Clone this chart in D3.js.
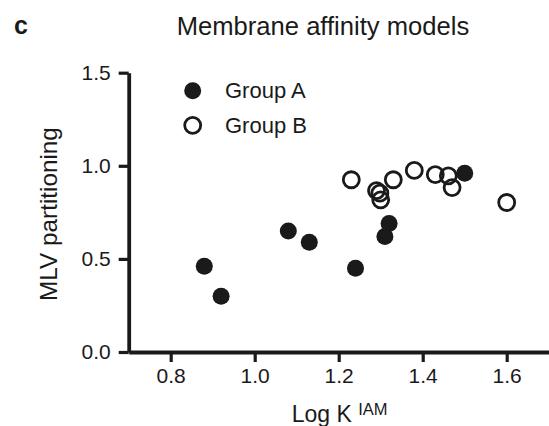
<!DOCTYPE html>
<html>
<head>
<meta charset="utf-8">
<script src="https://cdn.jsdelivr.net/npm/d3@7"></script>
<style>
  html, body { margin: 0; padding: 0; background: #fff; }
  svg { display: block; }
  text { font-family: Arial, "Liberation Sans", Helvetica, sans-serif; fill: #1a1a1a; }
</style>
</head>
<body>
<svg id="chart" width="549" height="426"></svg>
<script>
const xTicks = [0.8, 1.0, 1.2, 1.4, 1.6];
const yTicks = [0.0, 0.5, 1.0, 1.5];
const groupA_x = [0.88, 0.92, 1.08, 1.13, 1.24, 1.31, 1.32, 1.50];
const groupA_y = [0.46, 0.30, 0.65, 0.59, 0.45, 0.62, 0.69, 0.96];
const groupB_x = [1.23, 1.29, 1.298, 1.30, 1.33, 1.38, 1.43, 1.461, 1.47, 1.60];
const groupB_y = [0.925, 0.867, 0.853, 0.817, 0.925, 0.975, 0.953, 0.946, 0.883, 0.803];
const seriesNames = ["Group A", "Group B"];

const svg = d3.select("#chart");
const ink = "#1a1a1a";
const x = d3.scaleLinear().domain([0.7, 1.7]).range([128.7, 548.7]);
const y = d3.scaleLinear().domain([0, 1.5]).range([352, 72.7]);

// axes
const xAxis = d3.axisBottom(x).tickValues(xTicks).tickFormat(d3.format(".1f"))
  .tickSizeInner(10).tickSizeOuter(0).tickPadding(6);
const yAxis = d3.axisLeft(y).tickValues(yTicks).tickFormat(d3.format(".1f"))
  .tickSizeInner(10).tickSizeOuter(0).tickPadding(8);

const gx = svg.append("g").attr("transform", `translate(0,${y(0)})`).call(xAxis);
const gy = svg.append("g").attr("transform", `translate(${x(0.7)},0)`).call(yAxis);
[gx, gy].forEach(g => {
  g.select(".domain").attr("stroke", ink).attr("stroke-width", 3.8);
  g.selectAll(".tick line").attr("stroke", ink).attr("stroke-width", 3.2);
  g.selectAll(".tick text").attr("font-size", 21).attr("fill", ink)
    .style("font-family", "Arial, 'Liberation Sans', sans-serif");
});

// points: group B (open) then group A (filled)
const dataB = groupB_x.map((v, i) => ({x: v, y: groupB_y[i]}));
const dataA = groupA_x.map((v, i) => ({x: v, y: groupA_y[i]}));
svg.append("g").selectAll("circle").data(dataB).join("circle")
  .attr("cx", d => x(d.x)).attr("cy", d => y(d.y)).attr("r", 8)
  .attr("fill", "none").attr("stroke", ink).attr("stroke-width", 2.8);
svg.append("g").selectAll("circle").data(dataA).join("circle")
  .attr("cx", d => x(d.x)).attr("cy", d => y(d.y)).attr("r", 8.5)
  .attr("fill", ink);

// legend
svg.append("circle").attr("cx", 192.7).attr("cy", 90.7).attr("r", 8.5).attr("fill", ink);
svg.append("circle").attr("cx", 192.7).attr("cy", 125.3).attr("r", 8)
  .attr("fill", "none").attr("stroke", ink).attr("stroke-width", 2.8);
svg.append("text").attr("x", 225).attr("y", 98.3).attr("font-size", 22).text(seriesNames[0]);
svg.append("text").attr("x", 225).attr("y", 133).attr("font-size", 22).text(seriesNames[1]);

// title & panel letter
svg.append("text").attr("x", 14).attr("y", 34).attr("font-size", 25).attr("font-weight", "bold").text("c");
svg.append("text").attr("x", 176.7).attr("y", 34.5).attr("font-size", 25.6).text("Membrane affinity models");

// axis labels
const xl = svg.append("text").attr("x", 291.7).attr("y", 421.7).attr("font-size", 23);
xl.append("tspan").text("Log K ");
xl.append("tspan").attr("font-size", 16.5).attr("dy", -6.7).text("IAM");

svg.append("text").attr("transform", "translate(56.7,214) rotate(-90)")
  .attr("text-anchor", "middle").attr("font-size", 24.3).text("MLV partitioning");
</script>
</body>
</html>
